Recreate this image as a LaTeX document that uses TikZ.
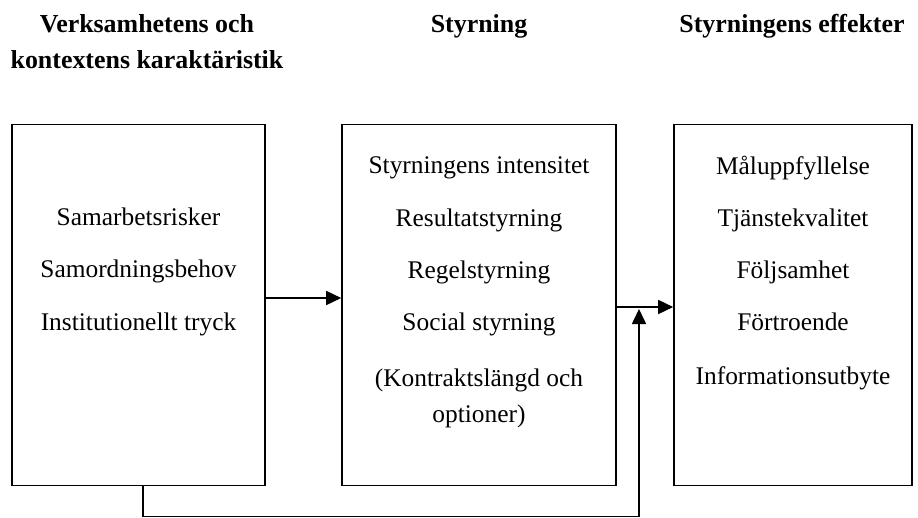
\documentclass[tikz,border=0pt]{standalone}
\usepackage{fontspec}
\setmainfont{Liberation Serif}
\usetikzlibrary{arrows.meta}
\begin{document}
\begin{tikzpicture}[x=1bp,y=-1bp,
  box/.style={draw,line width=1.6bp,minimum width=#1,inner sep=0pt,minimum height=361bp},
  lbl/.style={font=\fontsize{25.5}{30}\selectfont,inner sep=0pt,anchor=base},
  hdr/.style={font=\fontsize{26}{30}\selectfont\bfseries,inner sep=0pt,anchor=base},
  conn/.style={line width=1.6bp,-{Triangle[length=15bp,width=14bp]}}]
\useasboundingbox (0,0) rectangle (918,518);
\node[hdr] (h1a) at (147,33) {Verksamhetens och};
\node[hdr] (h1b) at (147,69) {kontextens karaktäristik};
\node[hdr] (h2) at (479,33) {Styrning};
\node[hdr] (h3) at (792,33) {Styrningens effekter};
\node[box=253bp] (b1) at (138.5,305) {};
\node[box=274bp] (b2) at (479,305) {};
\node[box=238bp] (b3) at (793,305) {};
\node[lbl] (t11) at (138.5,226) {Samarbetsrisker};
\node[lbl] (t12) at (138.5,278) {Samordningsbehov};
\node[lbl] (t13) at (138.5,331) {Institutionellt tryck};
\node[lbl] (t21) at (479,174) {Styrningens intensitet};
\node[lbl] (t22) at (479,227) {Resultatstyrning};
\node[lbl] (t23) at (479,279) {Regelstyrning};
\node[lbl] (t24) at (479,331) {Social styrning};
\node[lbl] (t25) at (479,386) {(Kontraktslängd och};
\node[lbl] (t26) at (479,422) {optioner)};
\node[lbl] (t31) at (793,175) {Måluppfyllelse};
\node[lbl] (t32) at (793,227) {Tjänstekvalitet};
\node[lbl] (t33) at (793,279) {Följsamhet};
\node[lbl] (t34) at (793,331) {Förtroende};
\node[lbl] (t35) at (793,384) {Informationsutbyte};
\coordinate (c1) at (143,516.5);
\coordinate (c2) at (639,516.5);
\coordinate (c3) at (639,309);
\draw[conn] (b1.east |- 0,298) -- (b2.west |- 0,298);
\draw[conn] (b2.east |- 0,307) -- (b3.west |- 0,307);
\draw[conn] (b1.south -| c1) -- (c1) -- (c2) -- (c3);
\end{tikzpicture}
\end{document}
